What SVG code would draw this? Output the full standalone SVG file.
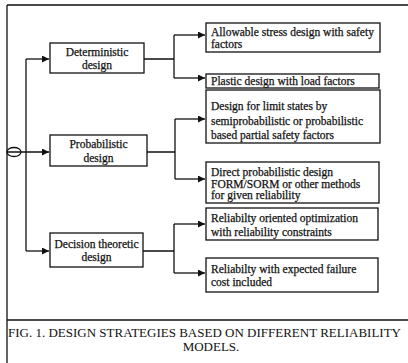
<svg xmlns="http://www.w3.org/2000/svg" width="408" height="363" viewBox="0 0 408 363">
<defs>
<marker id="ah" markerWidth="8" markerHeight="7" refX="7" refY="3.5" orient="auto" markerUnits="userSpaceOnUse">
<path d="M0,0 L7,3.5 L0,7 Z" fill="#111"/>
</marker>
<style>
.box{fill:#fff;stroke:#111;stroke-width:1.3}
.t{font-family:"Liberation Serif","Times New Roman",serif;font-size:11.5px;fill:#111;stroke:#111;stroke-width:0.25}
.c{text-anchor:middle}
.ln{fill:none;stroke:#111;stroke-width:1.3}
.cap{font-family:"Liberation Serif","Times New Roman",serif;font-size:13px;fill:#111}
</style>
</defs>
<rect x="0" y="0" width="408" height="363" fill="#fff"/>
<g id="frame" class="ln">
<path d="M7,5 H408 M7,5 V363 M7,320 H408"/>
</g>
<g id="connectors" class="ln">
<ellipse cx="14" cy="152" rx="7" ry="4.5"/>
<path d="M26,59 V251"/>
<path d="M7,152 H49" marker-end="url(#ah)"/>
<path d="M26,59 H49" marker-end="url(#ah)"/>
<path d="M26,251 H49" marker-end="url(#ah)"/>
<path d="M144,59 H174 M174,35 V78"/>
<path d="M174,35 H205" marker-end="url(#ah)"/>
<path d="M174,78 H205" marker-end="url(#ah)"/>
<path d="M147,152 H175 M175,119 V179"/>
<path d="M175,119 H205" marker-end="url(#ah)"/>
<path d="M175,179 H205" marker-end="url(#ah)"/>
<path d="M143,251 H174 M174,224 V273"/>
<path d="M174,224 H205" marker-end="url(#ah)"/>
<path d="M174,273 H205" marker-end="url(#ah)"/>
</g>
<g id="deterministic">
<rect class="box" x="50" y="43" width="94" height="30"/>
<text class="t c" x="97" y="56">Deterministic</text>
<text class="t c" x="97" y="69">design</text>
</g>
<g id="probabilistic">
<rect class="box" x="50" y="135" width="97" height="31"/>
<text class="t c" x="98.5" y="148">Probabilistic</text>
<text class="t c" x="98.5" y="162">design</text>
</g>
<g id="decision">
<rect class="box" x="50" y="233" width="93" height="34"/>
<text class="t c" x="96.5" y="248">Decision theoretic</text>
<text class="t c" x="96.5" y="261">design</text>
</g>
<g id="allowable">
<rect class="box" x="206" y="23" width="174" height="29"/>
<text class="t" x="211" y="36">Allowable stress design with safety</text>
<text class="t" x="211" y="48">factors</text>
</g>
<g id="plastic">
<rect class="box" x="206" y="74" width="173" height="14"/>
<text class="t" x="211" y="85">Plastic design with load factors</text>
</g>
<g id="limitstates">
<rect class="box" x="206" y="90" width="174" height="53"/>
<text class="t" x="211" y="110">Design for limit states by</text>
<text class="t" x="211" y="125">semiprobabilistic or probabilistic</text>
<text class="t" x="211" y="139">based partial safety factors</text>
</g>
<g id="direct">
<rect class="box" x="206" y="162" width="173" height="41"/>
<text class="t" x="211" y="176">Direct probabilistic design</text>
<text class="t" x="211" y="187.5">FORM/SORM or other methods</text>
<text class="t" x="211" y="199">for given reliability</text>
</g>
<g id="optimization">
<rect class="box" x="206" y="208" width="172" height="32"/>
<text class="t" x="211" y="222">Reliabilty oriented optimization</text>
<text class="t" x="211" y="236">with reliability constraints</text>
</g>
<g id="failurecost">
<rect class="box" x="206" y="258" width="172" height="34"/>
<text class="t" x="211" y="273">Reliabilty with expected failure</text>
<text class="t" x="211" y="286">cost included</text>
</g>
<g id="caption">
<text class="cap" x="8" y="337">FIG. 1. DESIGN STRATEGIES BASED ON DIFFERENT RELIABILITY</text>
<text class="cap c" x="211" y="351">MODELS.</text>
</g>
</svg>
